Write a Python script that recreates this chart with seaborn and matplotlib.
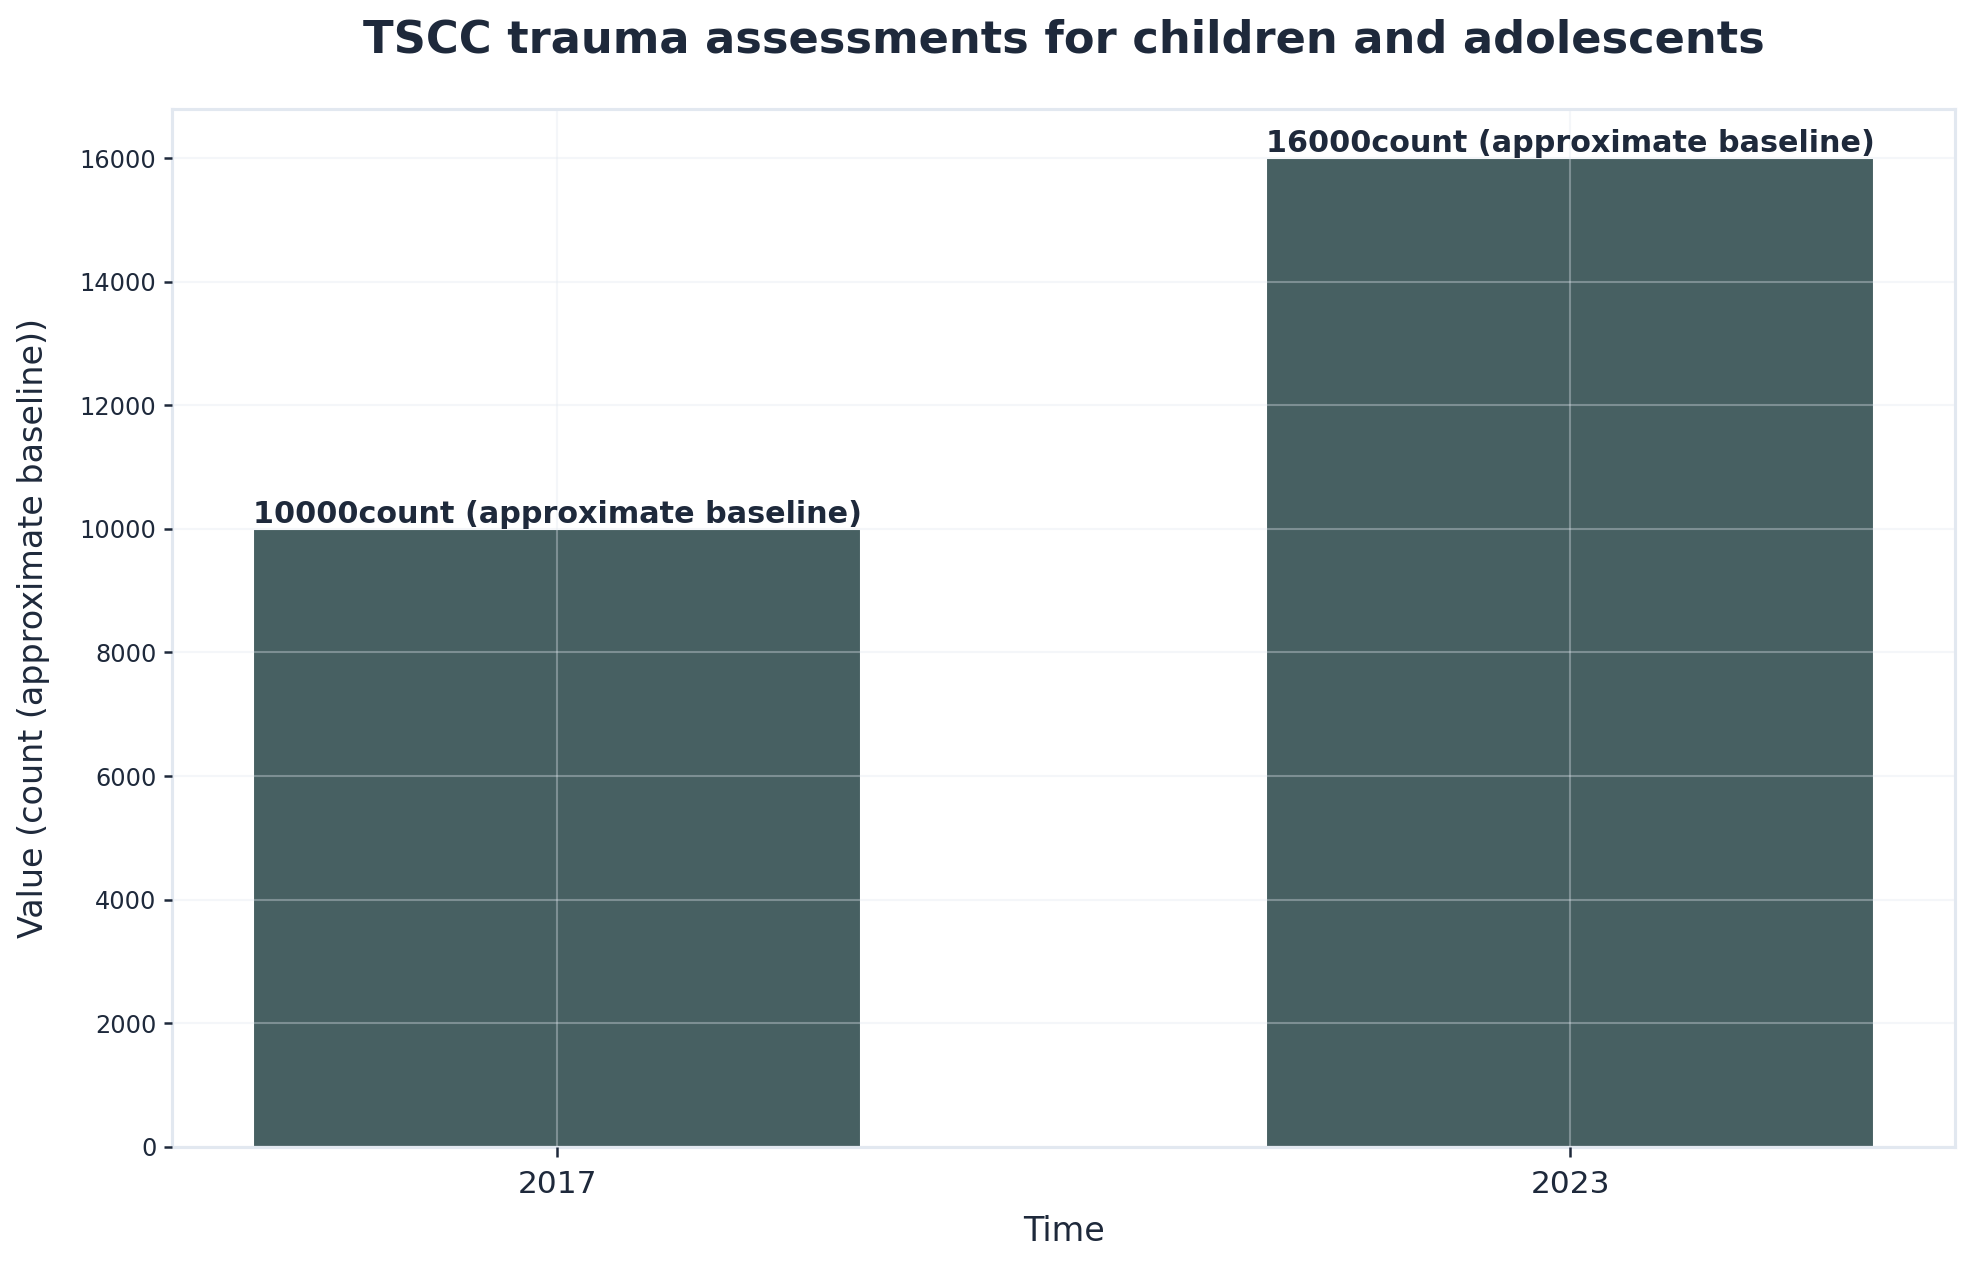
import matplotlib
matplotlib.use('Agg')
import matplotlib.pyplot as plt
import seaborn as sns
import pandas as pd

# data
years = ['2017', '2023']
values = [10000, 16000]
unit = 'count (approximate baseline)'

df = pd.DataFrame({'Time': years, 'Value': values})

sns.set_theme(style='white')
plt.rcParams['font.family'] = ['DejaVu Sans']

text_col = '#1e293b'
bar_col = '#476062'
edge_col = '#e2e8f0'

fig, ax = plt.subplots(figsize=(13.18, 8.42), dpi=150)
fig.subplots_adjust(left=0.087, right=0.989, top=0.914, bottom=0.092)

sns.barplot(data=df, x='Time', y='Value', color=bar_col, width=0.6, saturation=1, ax=ax)
ax.set_xlim(-0.38, 1.38)
ax.set_ylim(0, max(values) * 1.05)

for i, v in enumerate(values):
    ax.text(i, v, f'{v}{unit}', ha='center', va='bottom', fontsize=14.5,
            fontweight='bold', color=text_col)

ax.grid(True, color=edge_col, alpha=0.35, linewidth=1)
ax.set_axisbelow(False)

for s in ax.spines.values():
    s.set_visible(True)
    s.set_color(edge_col)
    s.set_linewidth(1.5)

ax.tick_params(axis='y', labelsize=11.5, colors=text_col, length=4, width=1.2, left=True)
ax.tick_params(axis='x', labelsize=15, colors=text_col, length=5, width=1.2, bottom=True, pad=6)

ax.set_title('TSCC trauma assessments for children and adolescents', fontsize=21.5,
             fontweight='bold', color=text_col, pad=27)
ax.set_xlabel('Time', fontsize=16, color=text_col, labelpad=8)
ax.set_ylabel(f'Value ({unit})', fontsize=16, color=text_col, labelpad=14)

fig.savefig('out.png', dpi=150, facecolor='white')
